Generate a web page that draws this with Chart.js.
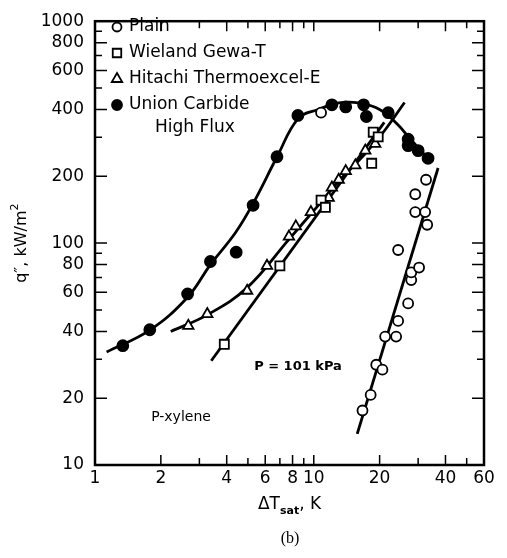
<!DOCTYPE html>
<html lang="en">

<head>
    <meta charset="UTF-8">
    <title>Pool boiling of P-xylene</title>
    <style>
        body {
            margin: 0;
            background-color: #fff;
        }

        .chart-container {
            position: relative;
            width: 507px;
            height: 558px;
        }
    </style>
</head>

<body>
    <div class="chart-container">
        <canvas id="boilingChart"></canvas>
    </div>

    <script src="https://cdn.jsdelivr.net/npm/chart.js"></script>
    <script>
        // series names (legend)
        const seriesNames = ['Plain', 'Wieland Gewa-T', 'Hitachi Thermoexcel-E', 'Union Carbide', 'High Flux'];

        // measured points, dT_sat (K) and q'' (kW/m2)
        const plainX = [16.7, 18.2, 19.3, 20.6, 21.2, 23.8, 24.3, 27.0, 27.9, 27.9, 30.3, 24.3, 33.0, 29.1, 32.3, 29.1, 32.6, 10.8];
        const plainY = [17.6, 20.7, 28.3, 26.9, 37.9, 37.9, 44.6, 53.5, 68.1, 73.8, 77.6, 93.1, 121, 138, 138, 166, 193, 387];

        const wielandX = [3.9, 7.0, 10.8, 11.3, 18.4, 18.7, 19.7];
        const wielandY = [35, 79, 156, 145, 229, 316, 301];

        const hitachiX = [2.67, 3.26, 4.96, 6.11, 7.7, 8.28, 9.7, 11.7, 12.1, 13.0, 14.0, 15.5, 17.2, 19.1];
        const hitachiY = [42.4, 47.9, 61, 79, 107, 119, 138, 160, 178, 193, 211, 224, 261, 280];

        const unionX = [1.34, 1.78, 2.65, 3.37, 4.42, 5.28, 6.79, 8.46, 12.1, 14.0, 16.9, 17.4, 21.9, 27.0, 27.0, 30.0, 33.3];
        const unionY = [34.5, 40.7, 59, 82.6, 91, 148, 245, 376, 420, 411, 420, 372, 387, 294, 275, 261, 241];

        // fitted curves drawn through the data
        const unionFitX = [1.13, 1.78, 2.65, 3.37, 4.4, 5.3, 6.8, 8.5, 10.5, 13, 16, 20, 24, 28, 34.5];
        const unionFitY = [32.3, 40.5, 57, 80, 112, 152, 245, 365, 400, 428, 428, 400, 345, 290, 232];

        const hitachiFitX = [2.22, 3.26, 4.96, 7.7, 10, 13, 17, 21, 26];
        const hitachiFitY = [40, 47.5, 63, 104, 140, 190, 250, 320, 430];

        const wielandFitX = [3.4, 21];
        const wielandFitY = [29.5, 350];

        const plainFitX = [15.8, 37];
        const plainFitY = [13.8, 218];

        // axis ticks
        const xTickVals = [1, 2, 3, 4, 5, 6, 7, 8, 9, 10, 20, 30, 40, 50, 60];
        const xTickLabels = [1, 2, 4, 6, 8, 10, 20, 40, 60];
        const yTickVals = [10, 20, 30, 40, 50, 60, 70, 80, 90, 100, 200, 300, 400, 500, 600, 700, 800, 900, 1000];
        const yTickLabels = [10, 20, 40, 60, 80, 100, 200, 400, 600, 800, 1000];

        const pts = (xs, ys) => xs.map((x, i) => ({ x: x, y: ys[i] }));
        const FONT = 'DejaVu Sans';

        const markerSet = (data, style, radius, filled) => ({
            data: data,
            pointStyle: style,
            pointRadius: radius,
            pointBackgroundColor: filled ? '#000' : '#fff',
            pointBorderColor: '#000',
            pointBorderWidth: 1.8,
            showLine: false,
            order: 1
        });

        const lineSet = (data, tension) => ({
            data: data,
            showLine: true,
            pointRadius: 0,
            borderColor: '#000',
            borderWidth: 2.8,
            tension: tension,
            order: 2
        });

        function drawMarker(ctx, style, x, y, r, filled) {
            ctx.beginPath();
            if (style === 'circle') {
                ctx.arc(x, y, r, 0, Math.PI * 2);
            } else if (style === 'rect') {
                const s = r * Math.SQRT1_2;
                ctx.rect(x - s, y - s, 2 * s, 2 * s);
            } else {
                ctx.moveTo(x, y - r);
                ctx.lineTo(x + r * 0.87, y + r * 0.5);
                ctx.lineTo(x - r * 0.87, y + r * 0.5);
                ctx.closePath();
            }
            ctx.fillStyle = filled ? '#000' : '#fff';
            ctx.fill();
            ctx.lineWidth = 1.8;
            ctx.strokeStyle = '#000';
            ctx.stroke();
        }

        const decorations = {
            id: 'decorations',
            beforeDatasetsDraw(chart) {
                const { ctx, chartArea: a, scales: { x, y } } = chart;
                ctx.save();
                ctx.strokeStyle = '#000';
                ctx.lineWidth = 2.5;
                ctx.strokeRect(a.left, a.top, a.right - a.left, a.bottom - a.top);
                ctx.lineWidth = 1.5;
                ctx.beginPath();
                xTickVals.forEach(v => {
                    const px = x.getPixelForValue(v);
                    const len = xTickLabels.includes(v) ? 10 : 7;
                    ctx.moveTo(px, a.bottom); ctx.lineTo(px, a.bottom - len);
                    ctx.moveTo(px, a.top); ctx.lineTo(px, a.top + len);
                });
                yTickVals.forEach(v => {
                    const py = y.getPixelForValue(v);
                    const len = yTickLabels.includes(v) ? 12 : 7;
                    ctx.moveTo(a.left, py); ctx.lineTo(a.left + len, py);
                    ctx.moveTo(a.right, py); ctx.lineTo(a.right - len, py);
                });
                ctx.stroke();
                ctx.restore();
            },
            afterDraw(chart) {
                const { ctx, chartArea: a } = chart;
                ctx.save();
                ctx.fillStyle = '#000';

                // legend in the upper left corner
                const rows = [
                    { y: 27, style: 'circle', filled: false, r: 4.5 },
                    { y: 53, style: 'rect', filled: false, r: 6 },
                    { y: 79, style: 'triangle', filled: false, r: 6 },
                    { y: 105, style: 'circle', filled: true, r: 5 }
                ];
                ctx.font = '17px ' + FONT;
                ctx.textBaseline = 'middle';
                ctx.textAlign = 'left';
                rows.forEach((row, i) => {
                    drawMarker(ctx, row.style, 117, row.y, row.r, row.filled);
                    ctx.fillStyle = '#000';
                    ctx.fillText(seriesNames[i], 129, row.y);
                });
                ctx.fillText(seriesNames[4], 155, 128);

                // annotations
                ctx.textAlign = 'center';
                ctx.font = 'bold 13px ' + FONT;
                ctx.fillText('P = 101 kPa', 298, 367);
                ctx.font = '14px ' + FONT;
                ctx.fillText('P-xylene', 181, 417);

                // x axis title with subscript
                const cx = (a.left + a.right) / 2;
                ctx.textAlign = 'left';
                ctx.font = '17px ' + FONT;
                const w1 = ctx.measureText('\u0394T').width;
                const w3 = ctx.measureText(', K').width;
                ctx.font = 'bold 11px ' + FONT;
                const w2 = ctx.measureText('sat').width;
                let sx = cx - (w1 + w2 + w3) / 2;
                ctx.font = '17px ' + FONT;
                ctx.fillText('\u0394T', sx, 505);
                ctx.font = 'bold 11px ' + FONT;
                ctx.fillText('sat', sx + w1, 511);
                ctx.font = '17px ' + FONT;
                ctx.fillText(', K', sx + w1 + w2, 505);

                // y axis title with superscript
                ctx.translate(22, (a.top + a.bottom) / 2);
                ctx.rotate(-Math.PI / 2);
                ctx.font = '16px ' + FONT;
                const t1 = 'q\u2033, kW/m';
                const tw = ctx.measureText(t1).width;
                ctx.font = '11px ' + FONT;
                const tw2 = ctx.measureText('2').width;
                ctx.font = '16px ' + FONT;
                ctx.fillText(t1, -(tw + tw2) / 2, 0);
                ctx.font = '11px ' + FONT;
                ctx.fillText('2', -(tw + tw2) / 2 + tw, -7);
                ctx.setTransform(1, 0, 0, 1, 0, 0);

                // panel label
                ctx.textAlign = 'center';
                ctx.font = '16px "Liberation Serif"';
                ctx.fillText('(b)', 290, 539);
                ctx.restore();
            }
        };

        const ctx = document.getElementById('boilingChart').getContext('2d');

        new Chart(ctx, {
            type: 'scatter',
            data: {
                datasets: [
                    markerSet(pts(plainX, plainY), 'circle', 5, false),
                    markerSet(pts(wielandX, wielandY), 'rect', 6.4, false),
                    markerSet(pts(hitachiX, hitachiY), 'triangle', 6, false),
                    markerSet(pts(unionX, unionY), 'circle', 5.5, true),
                    lineSet(pts(unionFitX, unionFitY), 0.4),
                    lineSet(pts(hitachiFitX, hitachiFitY), 0.4),
                    lineSet(pts(wielandFitX, wielandFitY), 0),
                    lineSet(pts(plainFitX, plainFitY), 0)
                ]
            },
            options: {
                responsive: true,
                maintainAspectRatio: false,
                animation: false,
                layout: { padding: { top: 12, right: 23, left: 0, bottom: 0 } },
                plugins: {
                    legend: { display: false },
                    tooltip: { enabled: false }
                },
                scales: {
                    x: {
                        type: 'logarithmic',
                        min: 1,
                        max: 60,
                        afterBuildTicks: s => { s.ticks = xTickVals.map(v => ({ value: v })); },
                        afterFit: s => { s.height = 93; },
                        grid: { display: false, drawTicks: false },
                        border: { display: false },
                        ticks: {
                            autoSkip: false,
                            maxRotation: 0,
                            padding: 3,
                            color: '#000',
                            font: { family: FONT, size: 17 },
                            callback: v => xTickLabels.includes(v) ? String(v) : ''
                        }
                    },
                    y: {
                        type: 'logarithmic',
                        min: 10,
                        max: 1000,
                        afterBuildTicks: s => { s.ticks = yTickVals.map(v => ({ value: v })); },
                        afterFit: s => { s.width = 95; },
                        grid: { display: false, drawTicks: false },
                        border: { display: false },
                        ticks: {
                            autoSkip: false,
                            padding: 11,
                            color: '#000',
                            font: { family: FONT, size: 17 },
                            callback: v => yTickLabels.includes(v) ? String(v) : ''
                        }
                    }
                }
            },
            plugins: [decorations]
        });
    </script>
</body>

</html>
